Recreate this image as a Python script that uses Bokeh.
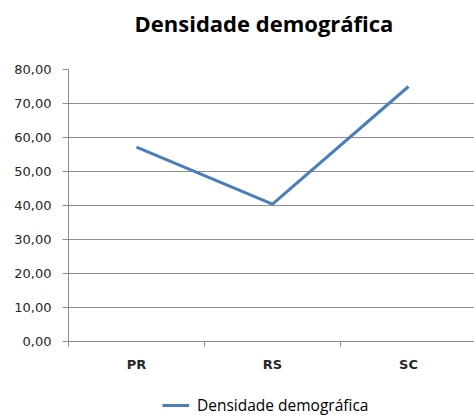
from bokeh.plotting import figure
from bokeh.models import Range1d, FixedTicker, Legend, LegendItem, ColumnDataSource, Title
from bokeh.layouts import column
from bokeh.embed import file_html
from bokeh.resources import INLINE

categories = ["PR", "RS", "SC"]
densidade = [57.2, 40.4, 75.0]
y_ticks = [0, 10, 20, 30, 40, 50, 60, 70, 80]
y_tick_labels = ["0,00", "10,00", "20,00", "30,00", "40,00", "50,00", "60,00", "70,00", "80,00"]
series_name = "Densidade demográfica"

LINE_COLOR = "#4a7ebb"
GRID_COLOR = "#8c8c8c"

xs = [i + 0.5 for i in range(len(categories))]
src = ColumnDataSource(data=dict(x=xs, y=densidade, cat=categories))

p = figure(width=474, height=394, output_backend="svg", toolbar_location=None,
           x_range=Range1d(0, 2.985), y_range=Range1d(0, 80),
           min_border_left=68, min_border_right=0, min_border_top=0, min_border_bottom=53)
p.outline_line_color = None
p.background_fill_color = "white"
p.border_fill_color = "white"

# spacer between title and plot area (added first -> closest to frame)
p.add_layout(Title(text=" ", text_font="Open Sans", text_font_size="10px",
                   standoff=11, text_color="white"), "above")

p.title.text = "Densidade demográfica"
p.title.text_font = "Open Sans"
p.title.text_font_size = "22px"
p.title.text_font_style = "bold"
p.title.text_color = "#000000"
p.title.align = "left"
p.title.offset = 66
p.title.vertical_align = "bottom"
p.title.standoff = 10

# y axis
p.yaxis.ticker = FixedTicker(ticks=y_ticks, minor_ticks=[])
p.yaxis.major_label_overrides = {t: l for t, l in zip(y_ticks, y_tick_labels)}
p.yaxis.major_label_text_font = "DejaVu Sans"
p.yaxis.major_label_text_font_size = "13px"
p.yaxis.major_label_text_color = "#262626"
p.yaxis.axis_line_color = GRID_COLOR
p.yaxis.major_tick_line_color = GRID_COLOR
p.yaxis.major_tick_out = 6
p.yaxis.major_tick_in = 0
p.yaxis.minor_tick_line_color = None
p.yaxis.major_label_standoff = 11

# x axis: labels centred in categories, ticks between categories
p.xaxis.ticker = FixedTicker(ticks=xs, minor_ticks=list(range(len(categories) + 1)))
p.xaxis.major_label_overrides = {x: c for x, c in zip(xs, categories)}
p.xaxis.major_label_text_font = "DejaVu Sans"
p.xaxis.major_label_text_font_size = "13px"
p.xaxis.major_label_text_font_style = "bold"
p.xaxis.major_label_text_color = "#262626"
p.xaxis.axis_line_color = GRID_COLOR
p.xaxis.major_tick_line_color = None
p.xaxis.minor_tick_line_color = GRID_COLOR
p.xaxis.minor_tick_out = 5
p.xaxis.minor_tick_in = 0
p.xaxis.major_tick_out = 5
p.xaxis.major_label_standoff = 10

p.xgrid.grid_line_color = None
p.ygrid.ticker = FixedTicker(ticks=y_ticks)
p.ygrid.grid_line_color = GRID_COLOR
p.ygrid.grid_line_width = 1

r = p.line("x", "y", source=src, line_color=LINE_COLOR, line_width=3)

# legend strip below the chart (its line lies outside this strip's range, only the legend shows)
lf = figure(width=474, height=22, output_backend="svg", toolbar_location=None,
            x_range=Range1d(0, 1), y_range=Range1d(0, 1),
            x_axis_type=None, y_axis_type=None,
            min_border_left=0, min_border_right=0, min_border_top=0, min_border_bottom=0)
lf.outline_line_color = None
lf.xgrid.visible = False
lf.ygrid.visible = False
lr = lf.line("x", "y", source=src, line_color=LINE_COLOR, line_width=3)
legend = Legend(items=[LegendItem(label=series_name, renderers=[lr])],
                orientation="horizontal", location=(94, 0),
                glyph_width=27, glyph_height=14, label_standoff=8,
                label_text_font="Open Sans", label_text_font_size="15.5px",
                label_text_color="#000000",
                border_line_color=None, background_fill_color=None,
                margin=0, padding=0)
lf.add_layout(legend, "center")

open("out.html", "w").write(file_html(column(p, lf, spacing=0), INLINE))
